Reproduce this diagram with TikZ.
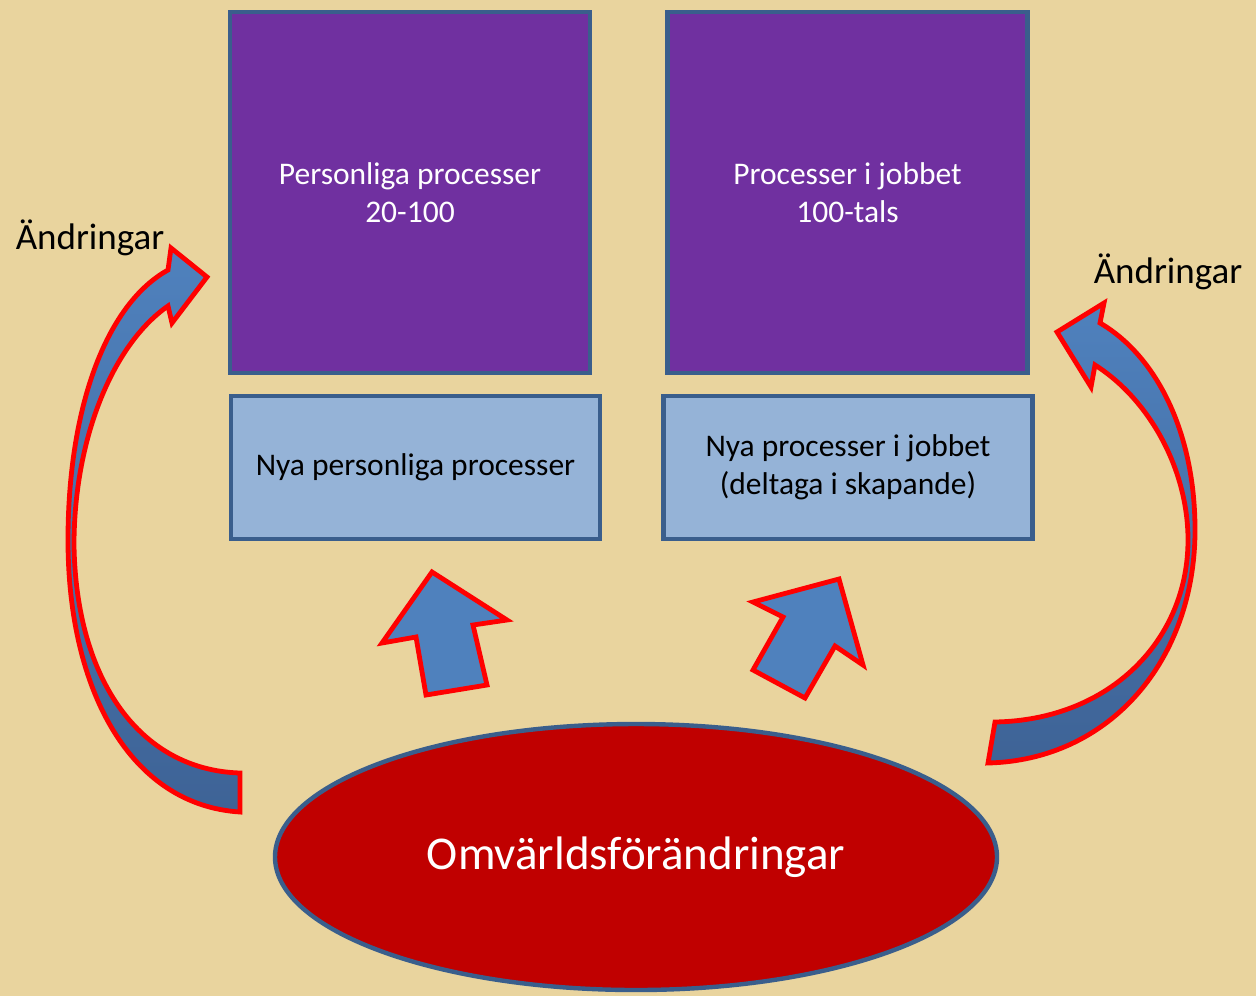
\documentclass[tikz,border=0pt]{standalone}
\usepackage{fontspec}
\setmainfont{Carlito}
\usetikzlibrary{shapes.geometric}
\definecolor{papyrus}{RGB}{233,212,158}
\definecolor{procpurple}{RGB}{112,48,160}
\definecolor{newblue}{RGB}{149,179,215}
\definecolor{edgeblue}{RGB}{58,94,140}
\definecolor{arrowblue}{RGB}{79,129,189}
\definecolor{arrowdark}{RGB}{62,99,150}
\definecolor{worldred}{RGB}{192,0,0}

\begin{document}
\begin{tikzpicture}[x=0.5pt, y=-0.5pt, every node/.style={font=\fontsize{15.75}{19}\selectfont}]
  \tikzset{
    proc/.style={rectangle, draw=edgeblue, line width=2.2pt, fill=procpurple, text=white, minimum width=180pt, minimum height=180.5pt, align=center},
    nyproc/.style={rectangle, draw=edgeblue, line width=2.2pt, fill=newblue, minimum width=184.5pt, minimum height=71.5pt, align=center},
    blockarrow/.style={fill=arrowblue, draw=red, line width=2.4pt, line join=miter},
    bendarrow/.style={top color=arrowblue, bottom color=arrowdark, draw=red, line width=2.4pt, line join=miter},
    lbl/.style={font=\fontsize{18.5}{22}\selectfont}
  }
  \fill[papyrus] (0,0) rectangle (1256,996);
  \useasboundingbox (0,0) rectangle (1256,996);

  \node[proc] (pers) at (410,192.5) {Personliga processer\\20-100};
  \node[proc] (jobb) at (847.5,192.5) {Processer i jobbet\\100-tals};
  \node[nyproc] (nypers) at (415.5,467.5) {Nya personliga processer};
  \node[nyproc] (nyjobb) at (848,467.5) {Nya processer i jobbet\\(deltaga i skapande)};
  \node[ellipse, draw=edgeblue, line width=2.2pt, fill=worldred, text=white, minimum width=361pt, minimum height=133pt,
    font=\fontsize{23.5}{28}\selectfont] (omv) at (636,857) {Omvärldsförändringar};

  \node[lbl] (andv) at (90,238) {Ändringar};
  \node[lbl] (andh) at (1168,272) {Ändringar};

  \draw[blockarrow] (432,572) -- (507,620) -- (473,625) -- (487,685) -- (426,695) -- (416,637) -- (382,643) -- cycle;
  \draw[blockarrow] (839,579) -- (863,665) -- (835,646) -- (805,698) -- (753,670) -- (783,617) -- (753,602) -- cycle;

  \draw[bendarrow] (240,812) .. controls (130,805) and (68,690) .. (68,540)
    .. controls (68,410) and (105,305) .. (168,270) -- (171,248) -- (207,277) -- (172,323) -- (168,306)
    .. controls (112,345) and (74,440) .. (74,545) .. controls (76,680) and (140,770) .. (240,773) -- cycle;
  \draw[bendarrow] (988,763) .. controls (1110,760) and (1195,660) .. (1195,530)
    .. controls (1195,430) and (1155,355) .. (1100,323) -- (1104,303) -- (1057,332) -- (1091,387) -- (1095,365)
    .. controls (1150,400) and (1188,470) .. (1188,540) .. controls (1188,640) and (1110,720) .. (995,722) -- cycle;
\end{tikzpicture}
\end{document}
